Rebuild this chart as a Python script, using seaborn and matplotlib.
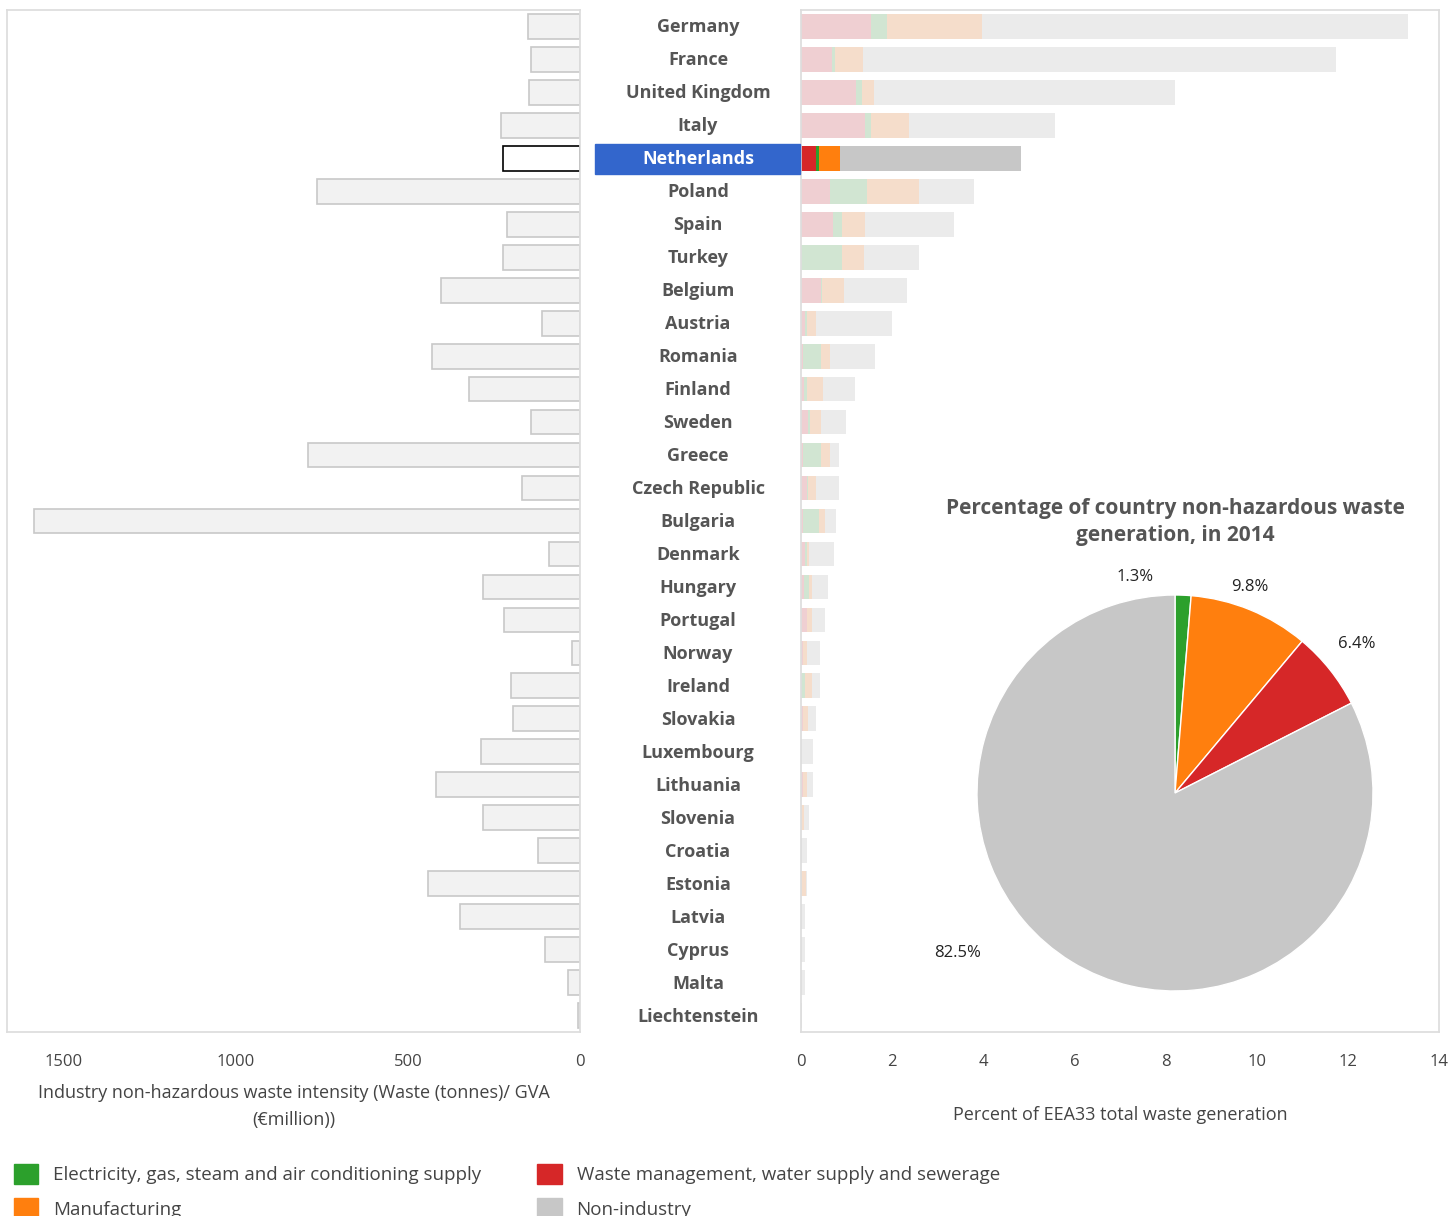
import matplotlib
matplotlib.use("Agg")
import matplotlib.pyplot as plt
import seaborn as sns
import numpy as np
import pandas as pd
from matplotlib.patches import Patch, Rectangle

sns.set_theme(style="white")
plt.rcParams['font.family'] = ['Open Sans', 'DejaVu Sans']

countries = ["Germany","France","United Kingdom","Italy","Netherlands","Poland","Spain","Turkey",
             "Belgium","Austria","Romania","Finland","Sweden","Greece","Czech Republic","Bulgaria",
             "Denmark","Hungary","Portugal","Norway","Ireland","Slovakia","Luxembourg","Lithuania",
             "Slovenia","Croatia","Estonia","Latvia","Cyprus","Malta","Liechtenstein"]
intensity = [151,142,148,230,224,765,212,224,404,110,430,323,142,791,169,1587,90,282,221,23,
             200,195,288,419,282,122,442,349,102,35,6]
waste = [1.54,0.68,1.21,1.40,0.33,0.64,0.71,0.0,0.44,0.09,0.05,0.07,0.16,0.04,0.13,0.04,
         0.09,0.07,0.13,0.04,0.0,0.04,0.0,0.04,0.0,0.0,0.0,0.0,0.0,0.0,0.0]
electricity = [0.35,0.07,0.13,0.13,0.07,0.80,0.19,0.90,0.02,0.04,0.38,0.06,0.03,0.40,0.03,0.36,
               0.04,0.10,0.0,0.0,0.09,0.0,0.0,0.0,0.0,0.0,0.0,0.0,0.0,0.0,0.0]
manufacturing = [2.08,0.60,0.26,0.85,0.46,1.16,0.50,0.48,0.48,0.20,0.20,0.35,0.24,0.20,0.17,0.13,
                 0.04,0.07,0.11,0.10,0.15,0.12,0.0,0.10,0.07,0.0,0.11,0.0,0.0,0.0,0.0]
total = [13.33,11.73,8.20,5.57,4.82,3.79,3.35,2.58,2.32,2.00,1.62,1.18,0.98,0.83,0.83,0.77,
         0.72,0.59,0.53,0.42,0.42,0.33,0.26,0.26,0.18,0.13,0.13,0.09,0.09,0.09,0.03]
pie_labels = ["Electricity, gas, steam and air conditioning supply","Manufacturing",
              "Waste management, water supply and sewerage","Non-industry"]
pie_values = [1.3, 9.8, 6.4, 82.5]
highlight = "Netherlands"

full = {"waste":"#d62728","elec":"#2ca02c","manu":"#ff7f0e","non":"#c7c7c7"}
faded = {"waste":"#efcfd2","elec":"#d1e5d2","manu":"#f5ddcb","non":"#ebebeb"}

df = pd.DataFrame({"country":countries,"intensity":intensity,"waste":waste,"elec":electricity,
                   "manu":manufacturing,"total":total})
df["c1"] = df["waste"]
df["c2"] = df["c1"] + df["elec"]
df["c3"] = df["c2"] + df["manu"]

W, H = 1451, 1216
fig = plt.figure(figsize=(W/100, H/100), dpi=100)
axL = fig.add_axes([7/W, 1-1032/H, (580-7)/W, (1032-10)/H])
axR = fig.add_axes([801/W, 1-1032/H, (1439-801)/W, (1032-10)/H])

# left bars
sns.barplot(data=df, y="country", x="intensity", ax=axL, width=0.75, color="#f2f2f2",
            edgecolor="#c8c8c8", linewidth=1.2, orient="h")
hi = countries.index(highlight)
for i, p in enumerate(axL.patches):
    if i == hi:
        p.set_facecolor("white"); p.set_edgecolor("black")
axL.set_xlim(1665, 0)
axL.set_xticks([1500,1000,500,0])
axL.set_ylim(len(countries)-0.5, -0.5)
axL.set_yticks([]); axL.set_ylabel("")
axL.set_xlabel("Industry non-hazardous waste intensity (Waste (tonnes)/ GVA\n(€million))",
               fontsize=13, color="#444", labelpad=10, linespacing=1.6)
for s in axL.spines.values():
    s.set_color("#dddddd")

# right stacked bars
layers = [("total","non"),("c3","manu"),("c2","elec"),("c1","waste")]
for col, key in layers:
    n0 = len(axR.patches)
    sns.barplot(data=df, y="country", x=col, ax=axR, width=0.75, color="#ccc", orient="h",
                linewidth=0)
    for i, p in enumerate(axR.patches[n0:]):
        p.set_facecolor(full[key] if i == hi else faded[key])
axR.set_xlim(0, 14)
axR.set_xticks(range(0, 15, 2))
axR.set_ylim(len(countries)-0.5, -0.5)
axR.set_yticks([]); axR.set_ylabel("")
axR.set_xlabel("Percent of EEA33 total waste generation", fontsize=13, color="#444", labelpad=26)
for s in axR.spines.values():
    s.set_color("#dddddd")
for ax in (axL, axR):
    ax.tick_params(axis="x", labelsize=12, colors="#444", length=0, pad=16)

# country labels
for i, c in enumerate(countries):
    ypix = 27 + i * 33
    if c == highlight:
        fig.patches.append(Rectangle((595/W, 1-(ypix+15)/H), 205/W, 30/H,
                                     transform=fig.transFigure, color="#3366cc"))
    fig.text(698/W, 1-ypix/H, c, ha="center", va="center", fontsize=13, fontweight="bold",
             color="white" if c == highlight else "#555")

# pie
axP = fig.add_axes([(1175-198)/W, 1-(793+198)/H, 396/W, 396/H])
wedges, texts = axP.pie(pie_values, colors=[full["elec"],full["manu"],full["waste"],full["non"]],
                        startangle=90, counterclock=False,
                        labels=[f"{v}%" for v in pie_values], labeldistance=1.1,
                        textprops=dict(fontsize=12, color="#222", ha="center", va="center"))
pos = [(-0.2, 1.09), (0.38, 1.04), (0.92, 0.75), (-1.1, -0.81)]
for t, p in zip(texts, pos):
    t.set_position(p)
axP.set_xlim(-1, 1); axP.set_ylim(-1, 1)
axP.set_aspect("equal")
fig.text(1175/W, 1-522/H, "Percentage of country non-hazardous waste\ngeneration, in 2014",
         ha="center", va="center", fontsize=15, fontweight="bold", color="#555", linespacing=1.4)

# legend
handles = [Patch(color=full["elec"]), Patch(color=full["manu"]),
           Patch(color=full["waste"]), Patch(color=full["non"])]
labs = [pie_labels[0], pie_labels[1], pie_labels[2], pie_labels[3]]
fig.legend(handles, labs, ncol=2, loc="upper left", bbox_to_anchor=(6/W, 1-1156/H),
           frameon=False, fontsize=13.5, handlelength=1.3, handleheight=1.3,
           columnspacing=3.0, labelcolor="#444", borderaxespad=0, labelspacing=0.75)

fig.savefig("out.png", dpi=100)
